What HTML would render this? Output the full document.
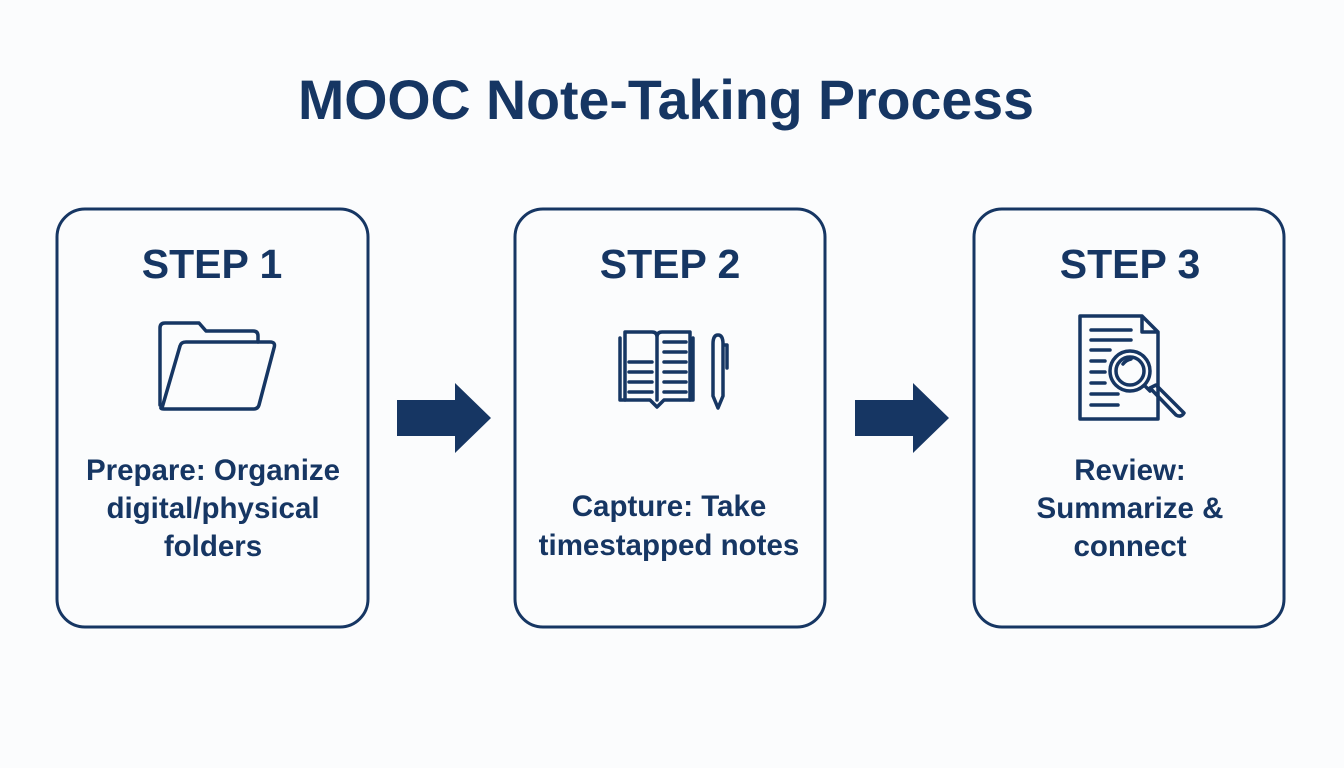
<!DOCTYPE html>
<html><head><meta charset="utf-8"><style>
body{margin:0;background:#fbfcfd;}
svg{display:block}
text{font-family:"Liberation Sans",sans-serif;font-weight:bold;fill:#163663;text-anchor:middle}
</style></head><body>
<svg width="1344" height="768" viewBox="0 0 1344 768">
<text x="666" y="119" font-size="55.5">MOOC Note-Taking Process</text>
<g fill="none" stroke="#163663" stroke-width="3">
<rect x="57" y="209" width="311" height="418" rx="28"/>
<rect x="515" y="209" width="310" height="418" rx="28"/>
<rect x="974" y="209" width="310" height="418" rx="28"/>
</g>
<text x="212" y="278" font-size="41">STEP 1</text>
<text x="670" y="278" font-size="41">STEP 2</text>
<text x="1130" y="278" font-size="41">STEP 3</text>
<g font-size="29.5">
<text x="213" y="480">Prepare: Organize</text>
<text x="213" y="518">digital/physical</text>
<text x="213" y="556">folders</text>
<text x="669" y="516">Capture: Take</text>
<text x="669" y="555">timestapped notes</text>
<text x="1130" y="480">Review:</text>
<text x="1130" y="518">Summarize &amp;</text>
<text x="1130" y="556">connect</text>
</g>
<g fill="#163663">
<polygon points="397,400 455,400 455,383 491,418 455,453 455,436 397,436"/>
<polygon points="855,400 913,400 913,383 949,418 913,453 913,436 855,436"/>
</g>
<g fill="none" stroke="#163663" stroke-width="3.5" stroke-linejoin="round" stroke-linecap="round">
<path d="M160,405 V328 Q160,323 165,323 H199 L206,331 H253 Q258,331 258,336 V342"/>
<path d="M162,408 L180,346 Q181,342 186,342 H270 Q276,342 274,348 L259,405 Q258,409 253,409 H164 Q159,409 162,406 Z"/>
<path d="M620,338 V400 H650 L657,407 L664,400 H693 V338"/>
<path d="M625,400 V332 H652 Q657,332 657,337 V400 M657,337 Q657,332 662,332 H690 V400"/>
<path d="M629,372 H652 M629,382 H652 M629,392 H652 M629,362 H652 M664,342 H686 M664,352 H686 M664,362 H686 M664,372 H686 M664,382 H686 M664,392 H686"/>
<path d="M713,344 Q713,335 718,335 Q723,335 723,344 V396 L718,408 L713,396 Z M723,345 H727 V368"/>
<path d="M1080,316 H1142 L1158,332 V419 H1080 Z M1142,316 V332 H1158"/>
<path d="M1091,330 H1131 M1091,340 H1131 M1091,350 H1110 M1091,361 H1105 M1091,372 H1105 M1091,383 H1105 M1091,394 H1118 M1091,405 H1118"/>
<circle cx="1130" cy="371" r="20" fill="#fbfcfd"/>
<circle cx="1130" cy="371" r="14"/>
<path d="M1123,364 Q1126,360 1131,359"/>
<path d="M1145,386 L1150,391 M1150,388 L1176,415 Q1181,418 1184,413 L1156,385 Z"/>
</g>
</svg>
</body></html>
